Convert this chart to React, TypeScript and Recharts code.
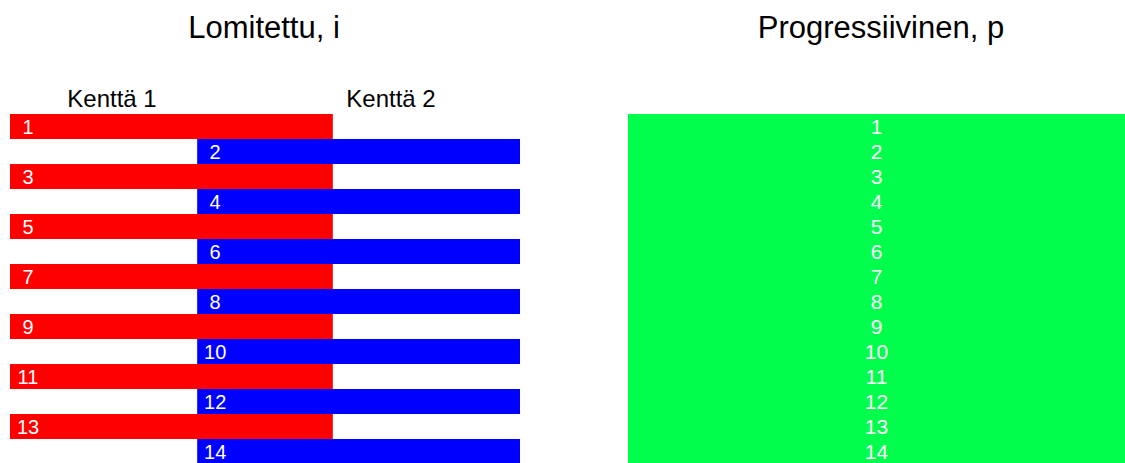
import React from "react";
import { BarChart, Bar, XAxis, YAxis, Cell, LabelList } from "recharts";

// row numbers (lines of the picture) and which field each belongs to
const rows = [1, 2, 3, 4, 5, 6, 7, 8, 9, 10, 11, 12, 13, 14];
const rowField = [1, 2, 1, 2, 1, 2, 1, 2, 1, 2, 1, 2, 1, 2];
const fieldNames = ["Kenttä 1", "Kenttä 2"];
const fieldSpans: [number, number][] = [
  [0, 63.3],
  [36.7, 100],
];
const fieldColors = ["#ff0000", "#0000ff"];
const progressiveSpan: [number, number] = [0, 100];
const progressiveColor = "#00ff4d";
const titles = ["Lomitettu, i", "Progressiivinen, p"];

const FONT = "'Liberation Sans', Arial, sans-serif";

const interlacedData = rows.map((row, i) => ({
  row,
  field: rowField[i],
  span: fieldSpans[rowField[i] - 1],
}));
const progressiveData = rows.map((row) => ({ row, span: progressiveSpan }));

const makeLabel = (mode: "left" | "center", fontSize: number) => (props: any) => {
  const vb = props.viewBox ?? props;
  const x = Number(vb.x ?? props.x);
  const y = Number(vb.y ?? props.y);
  const w = Number(vb.width ?? props.width);
  const h = Number(vb.height ?? props.height);
  const cx = mode === "left" ? x + 18 : x + w / 2;
  return (
    <text
      x={cx}
      y={y + h / 2}
      dy="0.355em"
      textAnchor="middle"
      fill="#ffffff"
      fontSize={fontSize}
      fontFamily={FONT}
    >
      {props.value}
    </text>
  );
};

export default function App() {
  return (
    <div
      style={{
        position: "absolute",
        left: 0,
        top: 0,
        width: 1125,
        height: 463,
        overflow: "hidden",
        background: "#fff",
        fontFamily: FONT,
      }}
    >
      <div style={{ position: "absolute", left: 0, top: 0 }}>
        <BarChart
          width={540}
          height={464}
          layout="vertical"
          data={interlacedData}
          barCategoryGap={0}
          margin={{ top: 114, right: 20, left: 10, bottom: 0 }}
        >
          <XAxis type="number" domain={[0, 100]} hide />
          <YAxis type="category" dataKey="row" hide />
          <Bar dataKey="span" isAnimationActive={false}>
            {interlacedData.map((d) => (
              <Cell key={d.row} fill={fieldColors[d.field - 1]} />
            ))}
            <LabelList dataKey="row" content={makeLabel("left", 20)} />
          </Bar>
        </BarChart>
      </div>

      <div style={{ position: "absolute", left: 628, top: 0 }}>
        <BarChart
          width={497}
          height={464}
          layout="vertical"
          data={progressiveData}
          barCategoryGap={0}
          margin={{ top: 114, right: 0, left: 0, bottom: 0 }}
        >
          <XAxis type="number" domain={[0, 100]} hide />
          <YAxis type="category" dataKey="row" hide />
          <Bar dataKey="span" fill={progressiveColor} isAnimationActive={false}>
            <LabelList dataKey="row" content={makeLabel("center", 21)} />
          </Bar>
        </BarChart>
      </div>

      <svg
        width={1125}
        height={463}
        style={{ position: "absolute", left: 0, top: 0, pointerEvents: "none" }}
      >
        <text x={264} y={38} textAnchor="middle" fontSize={31} fontFamily={FONT} fill="#000">
          {titles[0]}
        </text>
        <text x={881} y={38} textAnchor="middle" fontSize={31} fontFamily={FONT} fill="#000">
          {titles[1]}
        </text>
        <text x={112} y={107} textAnchor="middle" fontSize={24} fontFamily={FONT} fill="#000">
          {fieldNames[0]}
        </text>
        <text x={391} y={107} textAnchor="middle" fontSize={24} fontFamily={FONT} fill="#000">
          {fieldNames[1]}
        </text>
      </svg>
    </div>
  );
}
